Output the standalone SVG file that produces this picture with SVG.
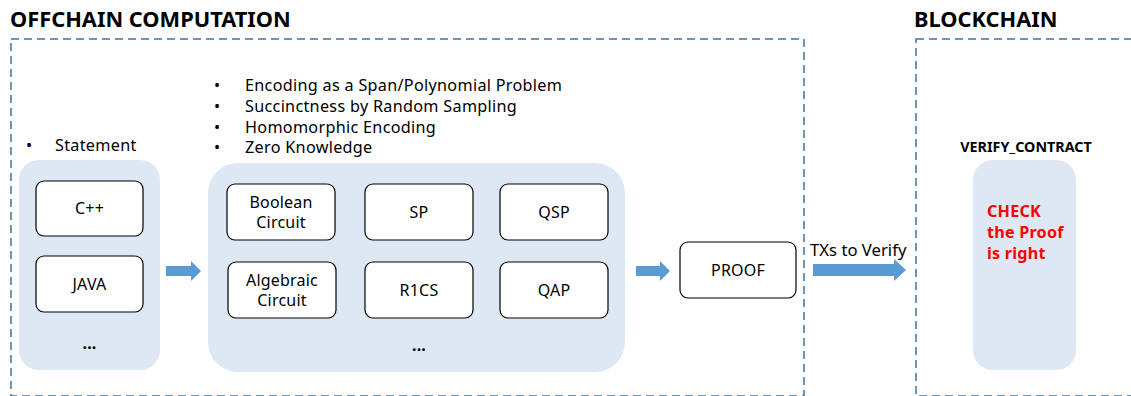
<svg xmlns="http://www.w3.org/2000/svg" width="1131" height="396" viewBox="0 0 1131 396">
<style>
.t{font-family:"Noto Sans","Open Sans",sans-serif;fill:#000}
.title{font-size:21.8px;font-weight:bold}
.lbl{font-size:16px;text-anchor:middle;letter-spacing:0.2px}
.bul{font-size:16.2px;letter-spacing:0.3px}
.dash{fill:none;stroke:#41719c;stroke-width:1.5;stroke-dasharray:8 5}
.grp{fill:#dde8f4}
.box{fill:#fff;stroke:#000;stroke-width:1.2}
.arr{fill:#5b9bd5}
.red{font-size:16.2px;font-weight:bold;fill:#ff0000;letter-spacing:0.2px}
</style>
<rect width="1131" height="396" fill="#fff"/>
<g id="offchain">
<text class="t title" x="10" y="27">OFFCHAIN COMPUTATION</text>
<rect class="dash" x="11" y="39" width="793" height="357"/>
</g>
<g id="blockchain">
<text class="t title" x="914" y="27">BLOCKCHAIN</text>
<rect class="dash" x="916" y="39" width="230" height="357"/>
</g>
<g id="statement">
<text class="t bul"><tspan x="26" y="151">•</tspan><tspan x="55" y="151">Statement</tspan></text>
<rect class="grp" x="19" y="160" width="141" height="210" rx="20"/>
</g>
<g id="cpp"><rect class="box" x="36" y="181" width="107" height="55" rx="8"/><text class="t lbl" x="89.5" y="214">C++</text></g>
<g id="java"><rect class="box" x="36" y="256" width="107" height="56" rx="8"/><text class="t lbl" x="89.5" y="290">JAVA</text></g>
<g id="dots1"><text class="t lbl" x="89.5" y="349" font-weight="bold">...</text></g>
<g id="encoding">
<text class="t bul"><tspan x="214" y="91">•</tspan><tspan x="245" y="91">Encoding as a Span/Polynomial Problem</tspan><tspan x="214" y="111.8">•</tspan><tspan x="245" y="111.8">Succinctness by Random Sampling</tspan><tspan x="214" y="132.6">•</tspan><tspan x="245" y="132.6">Homomorphic Encoding</tspan><tspan x="214" y="153.4">•</tspan><tspan x="245" y="153.4">Zero Knowledge</tspan></text>
<rect class="grp" x="208" y="163" width="417" height="209" rx="30"/>
</g>
<g id="boolean"><rect class="box" x="227" y="184" width="108" height="56" rx="8"/><text class="t lbl"><tspan x="281" y="207.6">Boolean</tspan><tspan x="281" y="228.4">Circuit</tspan></text></g>
<g id="sp"><rect class="box" x="365" y="184" width="108" height="56" rx="8"/><text class="t lbl" x="419" y="218">SP</text></g>
<g id="qsp"><rect class="box" x="500" y="184" width="108" height="56" rx="8"/><text class="t lbl" x="554" y="218">QSP</text></g>
<g id="algebraic"><rect class="box" x="228" y="262" width="108" height="56" rx="8"/><text class="t lbl"><tspan x="282" y="285.6">Algebraic</tspan><tspan x="282" y="306.4">Circuit</tspan></text></g>
<g id="r1cs"><rect class="box" x="365" y="262" width="108" height="56" rx="8"/><text class="t lbl" x="419" y="296">R1CS</text></g>
<g id="qap"><rect class="box" x="500" y="262" width="108" height="56" rx="8"/><text class="t lbl" x="554" y="296">QAP</text></g>
<g id="dots2"><text class="t lbl" x="419" y="351" font-weight="bold">...</text></g>
<g id="proof"><rect class="box" x="680" y="242" width="116" height="56" rx="8"/><text class="t lbl" x="738" y="276">PROOF</text></g>
<g id="verify_contract">
<text class="t" x="1026" y="152" font-size="14.3" font-weight="bold" text-anchor="middle">VERIFY_CONTRACT</text>
<rect class="grp" x="973" y="160" width="103" height="210" rx="20"/>
<text class="t red"><tspan x="987" y="217">CHECK</tspan><tspan x="987" y="238">the Proof</tspan><tspan x="987" y="259">is right</tspan></text>
</g>
<g id="connectors">
<polygon class="arr" points="166,266 191,266 191,261 201,271 191,281 191,276 166,276"/>
<polygon class="arr" points="636,266 660,266 660,261 670,271 660,281 660,276 636,276"/>
<polygon class="arr" points="813,264 894,264 894,259 906,270 894,281 894,276 813,276"/>
<text class="t" x="810" y="256" font-size="16.7">TXs to Verify</text>
</g>
</svg>
